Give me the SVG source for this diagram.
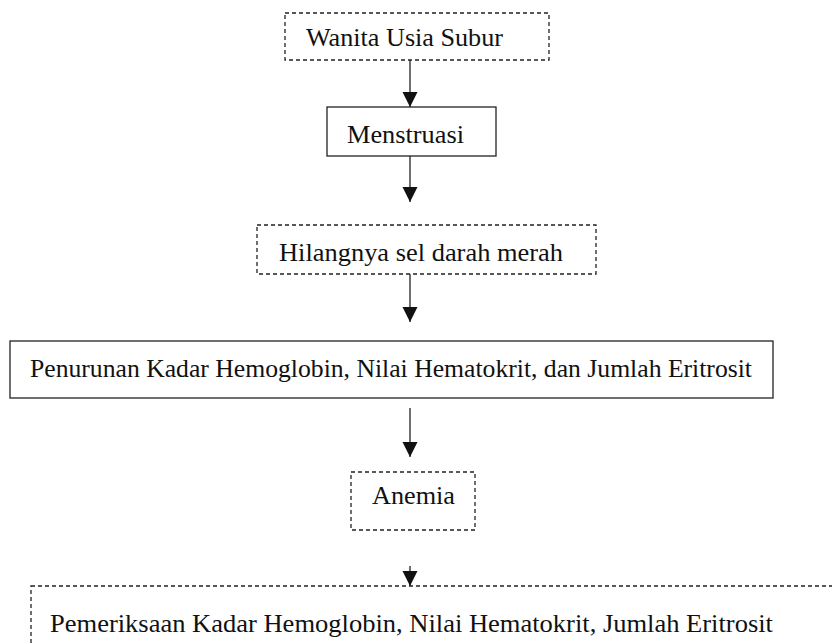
<svg xmlns="http://www.w3.org/2000/svg" width="832" height="644" viewBox="0 0 832 644">
<style>
.box{fill:#fff;stroke:#222;stroke-width:1.3}
.dash{stroke-dasharray:4 3}
.t{font-family:"Liberation Serif","Times New Roman",serif;font-size:25.5px;fill:#111}
.c{stroke:#222;stroke-width:1.3;fill:none}
</style>
<defs>
<marker id="ah" viewBox="0 0 10 10" refX="10" refY="5" markerWidth="15" markerHeight="17" markerUnits="userSpaceOnUse" orient="auto">
<path d="M0,0 L10,5 L0,10 Z" fill="#111"/>
</marker>
</defs>
<rect width="832" height="644" fill="#fff"/>
<g id="connectors">
<line class="c" x1="410" y1="60" x2="410" y2="107" marker-end="url(#ah)"/>
<line class="c" x1="410" y1="156" x2="410" y2="202" marker-end="url(#ah)"/>
<line class="c" x1="410" y1="274" x2="410" y2="322" marker-end="url(#ah)"/>
<line class="c" x1="410" y1="408" x2="410" y2="457" marker-end="url(#ah)"/>
<line class="c" x1="410" y1="566" x2="410" y2="586" marker-end="url(#ah)"/>
</g>
<g id="n1">
<rect class="box dash" x="285" y="13" width="264" height="47"/>
<text class="t" x="306" y="46" textLength="197" lengthAdjust="spacingAndGlyphs">Wanita Usia Subur</text>
</g>
<g id="n2">
<rect class="box" x="327" y="107" width="169" height="49"/>
<text class="t" x="347" y="143" textLength="117" lengthAdjust="spacingAndGlyphs">Menstruasi</text>
</g>
<g id="n3">
<rect class="box dash" x="257" y="225" width="339" height="49"/>
<text class="t" x="279" y="261" textLength="284" lengthAdjust="spacingAndGlyphs">Hilangnya sel darah merah</text>
</g>
<g id="n4">
<rect class="box" x="10" y="341" width="763" height="57"/>
<text class="t" x="30" y="377" textLength="722" lengthAdjust="spacingAndGlyphs">Penurunan Kadar Hemoglobin, Nilai Hematokrit, dan Jumlah Eritrosit</text>
</g>
<g id="n5">
<rect class="box dash" x="351" y="472" width="124" height="58"/>
<text class="t" x="372" y="504" textLength="83" lengthAdjust="spacingAndGlyphs">Anemia</text>
</g>
<g id="n6">
<rect class="box dash" x="31" y="586" width="820" height="80"/>
<text class="t" x="50" y="632" textLength="723" lengthAdjust="spacingAndGlyphs">Pemeriksaan Kadar Hemoglobin, Nilai Hematokrit, Jumlah Eritrosit</text>
</g>
</svg>
